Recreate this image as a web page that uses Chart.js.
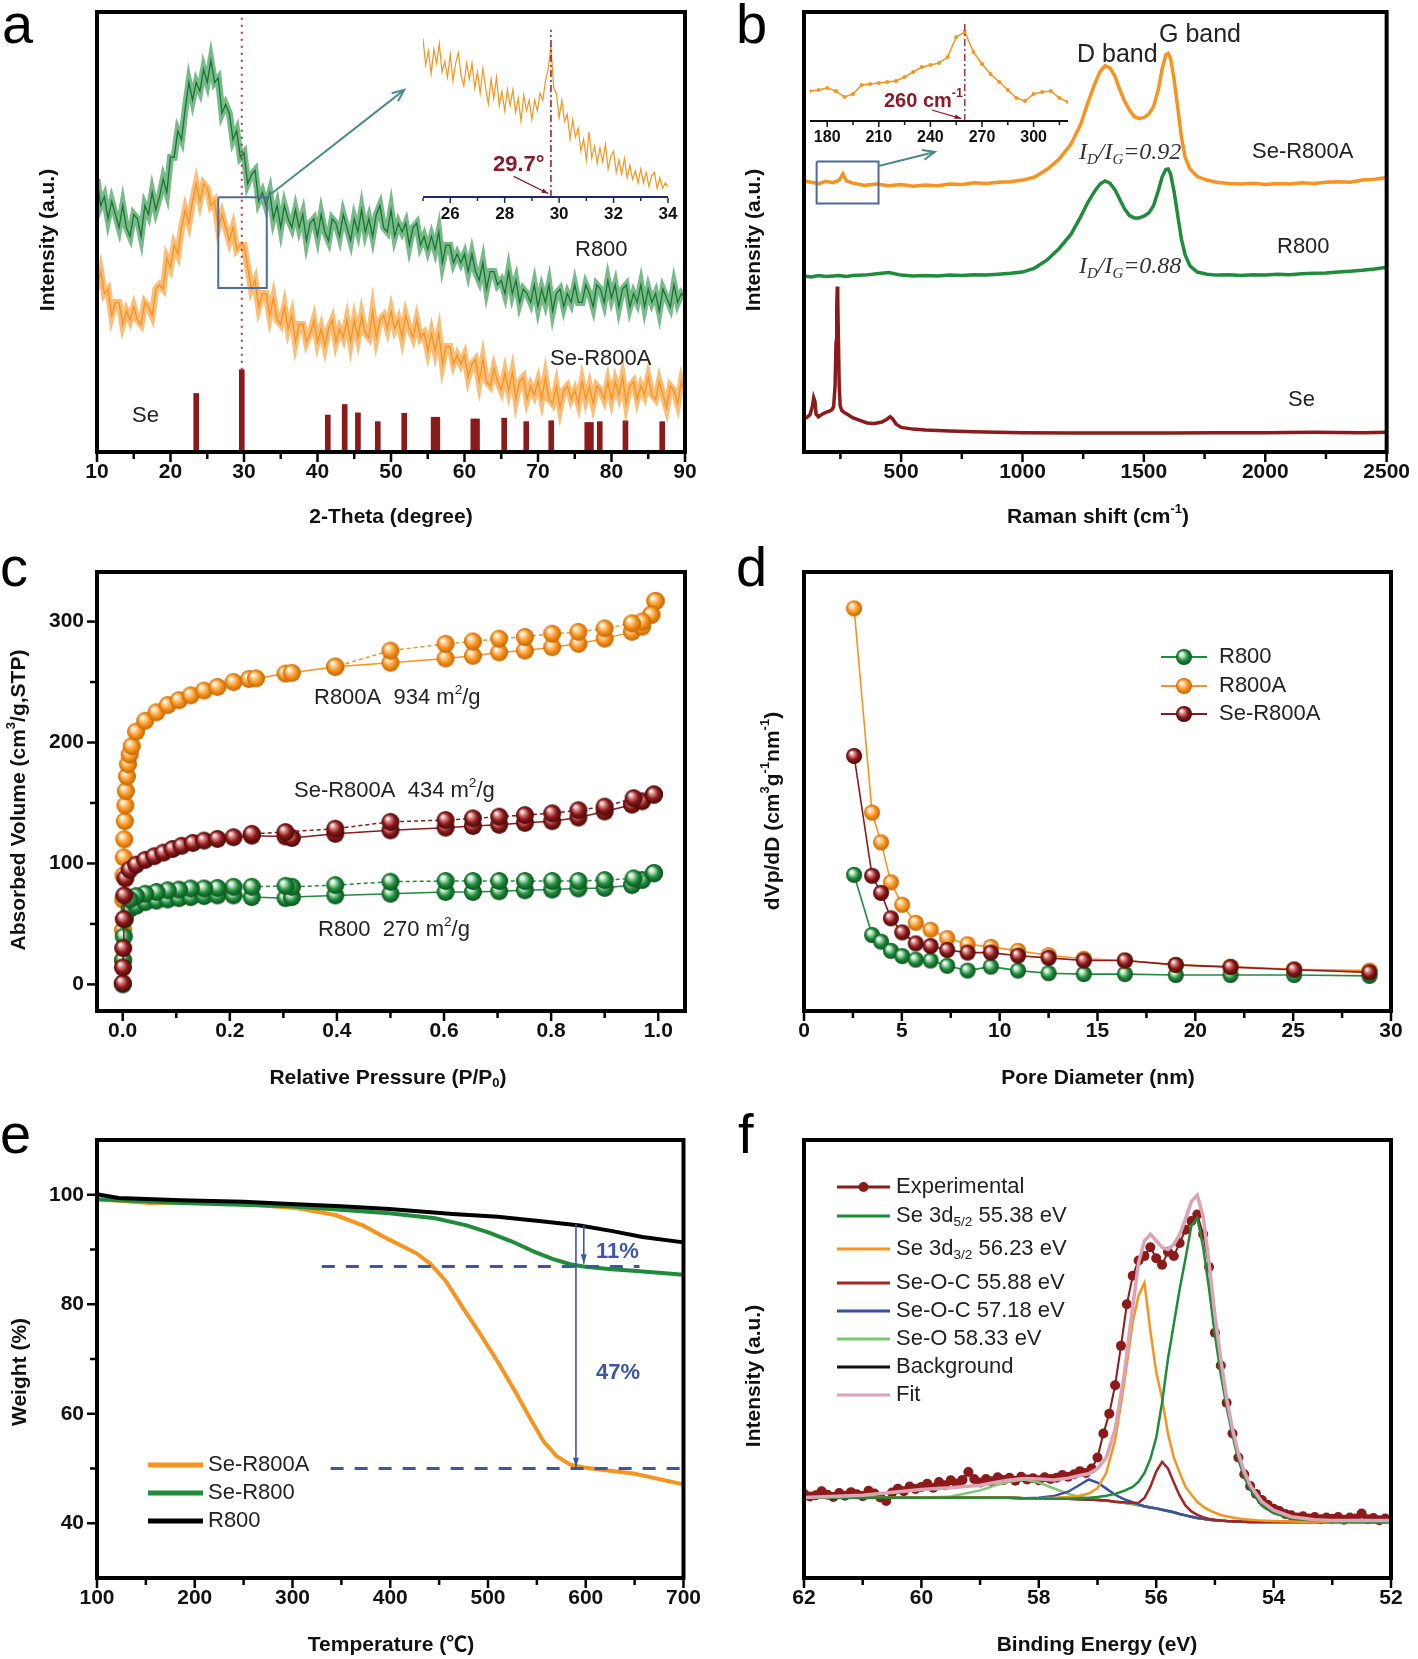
<!DOCTYPE html>
<html>
<head>
<meta charset="utf-8">
<script src="https://cdn.jsdelivr.net/npm/chart.js@4.4.1/dist/chart.umd.min.js"></script>
<style>
  body { margin: 0; background: #fff; }
  #wrap { position: relative; width: 1418px; height: 1659px; background: #fff; overflow: hidden; }
  #wrap canvas { position: absolute; }
</style>
</head>
<body>
<div id="wrap"></div>
<script>
// ---------------- data ----------------
// (a) XRD, 2-theta sampled every 0.5 deg from 10 to 90
var xrdAngles = Array.from({length: 161}, function (_, i) { return 10 + i * 0.5; });
var xrdR800 = [
  62, 56, 58, 53, 57, 54, 51, 56, 51, 49,
  54, 53, 49, 56, 54, 59, 55, 58, 62, 59,
  67, 67, 73, 71, 78, 84, 80, 84, 82, 87,
  84, 89, 84, 85, 77, 79, 77, 71, 73, 67,
  68, 61, 63, 64, 57, 59, 56, 59, 53, 56,
  51, 56, 53, 51, 55, 51, 54, 48, 52, 53,
  49, 54, 50, 48, 53, 52, 49, 54, 51, 48,
  53, 50, 55, 50, 53, 49, 54, 56, 51, 50,
  55, 49, 52, 50, 52, 47, 51, 52, 47, 49,
  46, 49, 46, 50, 43, 47, 47, 43, 45, 43,
  45, 41, 45, 41, 39, 43, 37, 41, 41, 38,
  39, 36, 41, 36, 39, 34, 37, 36, 34, 38,
  33, 37, 34, 38, 32, 36, 37, 33, 36, 34,
  38, 34, 34, 38, 36, 33, 38, 37, 34, 39,
  35, 38, 33, 37, 38, 33, 36, 34, 38, 33,
  37, 34, 36, 32, 37, 35, 33, 38, 34, 36,
  35
];
var xrdSeR800A = [
  37, 41, 36, 37, 31, 34, 34, 29, 32, 30,
  33, 30, 29, 34, 33, 31, 37, 38, 37, 44,
  42, 47, 45, 51, 55, 52, 57, 61, 57, 61,
  60, 56, 57, 51, 54, 51, 48, 51, 46, 47,
  47, 42, 37, 39, 33, 36, 36, 31, 35, 30,
  29, 33, 28, 31, 25, 29, 29, 25, 27, 30,
  25, 28, 24, 28, 30, 25, 28, 26, 30, 25,
  30, 26, 31, 27, 26, 32, 26, 30, 31, 28,
  32, 28, 30, 26, 31, 28, 26, 30, 26, 27,
  23, 27, 23, 27, 20, 24, 24, 20, 22, 20,
  22, 17, 20, 21, 16, 21, 16, 15, 19, 16,
  14, 18, 14, 18, 12, 16, 17, 12, 15, 13,
  16, 12, 17, 12, 11, 15, 10, 14, 15, 12,
  14, 11, 16, 12, 15, 11, 15, 14, 12, 16,
  12, 16, 13, 17, 11, 15, 16, 12, 15, 13,
  17, 13, 12, 16, 13, 10, 15, 14, 11, 16,
  13
];
var seRefPos = [23.5, 29.7, 41.4, 43.7, 45.5, 48.2, 51.8, 55.8, 56.3, 61.2, 61.7, 65.4, 68.4, 71.8, 76.7, 77.2, 78.4, 81.9, 86.9];
var seRefInt = [13.3, 18.7, 8.4, 10.8, 8.9, 6.9, 8.8, 7.9, 7.9, 7.5, 7.5, 7.7, 6.9, 7.1, 6.7, 6.7, 6.9, 7.1, 6.9];
// inset of (a): 25-34 deg every 0.1 deg
var insetAngles = Array.from({length: 91}, function (_, i) { return 25 + i * 0.1; });
var insetSeR800A = [
  90, 75, 83, 70, 84, 76, 87, 71, 77, 68,
  81, 66, 76, 82, 69, 63, 76, 67, 76, 62,
  71, 59, 73, 62, 53, 67, 56, 68, 52, 60,
  49, 61, 52, 61, 48, 56, 43, 58, 49, 55,
  44, 55, 49, 59, 55, 66, 73, 86, 62, 59,
  45, 55, 43, 47, 33, 44, 34, 39, 26, 33,
  21, 37, 22, 29, 19, 28, 20, 30, 16, 23,
  26, 14, 21, 13, 22, 11, 18, 10, 15, 8,
  16, 8, 14, 6, 12, 14, 5, 11, 5, 8,
  6
];

// (b) Raman
var ramanShift = [100, 130, 160, 190, 220, 245, 260, 275, 300, 350, 400, 450, 500, 550, 600, 650, 700, 750, 800, 850, 900, 950, 1000,
  1050, 1100, 1150, 1200, 1240, 1270, 1300, 1320, 1340, 1360, 1380, 1400, 1420, 1440, 1460, 1480, 1500, 1520, 1540, 1560,
  1575, 1590, 1600, 1610, 1625, 1640, 1655, 1670, 1690, 1720, 1760, 1800, 1850, 1900, 1950, 2000, 2050, 2100, 2150, 2200,
  2250, 2300, 2350, 2400, 2450, 2500];
var ramanSeR800A = [61.6, 61.3, 61.0, 61.5, 61.2, 61.8, 63.2, 61.6, 61.1, 60.6, 60.9, 60.5, 60.8, 60.4, 60.7, 60.5, 60.9, 60.8, 61.2, 61.0, 61.3, 61.4, 61.8,
  62.5, 64.2, 66.5, 70, 74.5, 79.5, 84, 86.5, 87.8, 87.3, 85.5, 82.5, 79.8, 77.8, 76.3, 75.8, 76, 76.8, 78.5, 82.5,
  87, 90.2, 90.6, 89.5, 84.5, 78, 71.5, 67, 64.3, 62.6, 61.8, 61.3, 61.0, 60.9, 61.1, 60.8, 61.0, 60.9, 61.2, 61.0,
  61.3, 61.4, 61.3, 61.8, 62.0, 62.4];
var ramanR800 = [40.0, 39.8, 40.1, 39.9, 40.0, 40.1, 40.0, 39.9, 40.1, 40.2, 40.5, 40.8, 40.2, 40.0, 40.1, 40.0, 40.2, 40.1, 40.3, 40.2, 40.4, 40.6, 40.9,
  41.8, 43.6, 46.2, 49.5, 53.5, 56.8, 59.5, 60.9, 61.6, 61.1, 59.7, 57.5, 55.3, 53.8, 53.2, 53.2, 53.6, 54.3, 56, 59.5,
  62.5, 64.2, 64.3, 63.2, 59, 53.5, 48.3, 44.8, 42.3, 40.9, 40.4, 40.2, 40.3, 40.1, 40.3, 40.2, 40.4, 40.3, 40.5, 40.6,
  40.7, 40.9, 41.1, 41.3, 41.6, 42.0];
var ramanSeShift = [100, 115, 125, 135, 140, 145, 150, 160, 175, 190, 205, 215, 222, 228, 232, 235, 237, 239, 242, 245,
  249, 255, 265, 280, 300, 330, 360, 390, 420, 440, 455, 465, 480, 500, 550, 600, 700, 800, 900, 1000,
  1200, 1400, 1600, 1800, 2000, 2200, 2400, 2500];
var ramanSe = [7.5, 8.0, 8.5, 10.5, 12.3, 11.5, 8.6, 8.0, 8.6, 9.0, 9.3, 9.6, 10.3, 15, 25, 33, 37.6, 35, 25, 15,
  10.5, 9.5, 9.0, 8.5, 7.8, 7.2, 6.6, 6.5, 6.8, 7.4, 8.0, 7.5, 6.3, 5.6, 5.2, 5.0, 4.8, 4.6, 4.5, 4.4,
  4.3, 4.3, 4.3, 4.4, 4.4, 4.5, 4.4, 4.5];
var insetShift = [170, 175, 180, 185, 190, 195, 200, 205, 210, 215, 220, 225, 230, 235, 240, 245, 250, 255, 260, 265, 270, 275, 280, 285, 290, 295, 300, 305, 310, 315, 320];
var insetRaman = [30, 31, 33, 30, 24, 27, 36, 37, 38, 39, 40, 44, 49, 54, 56, 58, 64, 84, 89, 69, 57, 47, 39, 31, 23, 20, 27, 29, 30, 23, 19];

// (c) N2 isotherms (adsorption / desorption)
var pR800A_ads = [0.0003, 0.0006, 0.001, 0.0015, 0.002, 0.003, 0.004, 0.005, 0.006, 0.008, 0.010, 0.013, 0.017, 0.025, 0.042, 0.063, 0.084, 0.105, 0.127, 0.152, 0.177, 0.207, 0.236, 0.249, 0.304, 0.316, 0.397, 0.5, 0.603, 0.654, 0.703, 0.751, 0.802, 0.851, 0.9, 0.951, 0.97, 0.987, 0.995];
var vR800A_ads = [20, 45, 70, 90, 105, 120, 135, 148, 160, 172, 182, 190, 197, 209, 218, 225, 231, 235, 239, 243, 246, 250, 252.5, 253, 257, 257.6, 262.7, 266, 269.5, 271.7, 274.5, 276, 278.8, 281.6, 285.9, 291.5, 295.8, 305.7, 317];
var pR800A_des = [0.995, 0.987, 0.97, 0.951, 0.9, 0.851, 0.802, 0.751, 0.703, 0.654, 0.603, 0.5, 0.397];
var vR800A_des = [317, 305.7, 300, 298.6, 294.4, 291.5, 290, 287.3, 285.9, 283.6, 281.6, 276, 262.7];
var pSeR800A_ads = [0.0002, 0.0005, 0.001, 0.002, 0.003, 0.005, 0.013, 0.025, 0.042, 0.059, 0.076, 0.093, 0.110, 0.131, 0.152, 0.177, 0.207, 0.241, 0.304, 0.316, 0.397, 0.5, 0.603, 0.654, 0.703, 0.751, 0.802, 0.851, 0.9, 0.951, 0.97, 0.992];
var vSeR800A_ads = [1, 14, 30, 54, 73.6, 87.7, 94.8, 99, 103, 106, 109, 112, 114.6, 117, 118.9, 120.3, 121.7, 123, 122.3, 121.1, 124.5, 127.4, 129.6, 131, 132, 133.6, 135, 138, 143, 148.6, 151.4, 157];
var pSeR800A_des = [0.992, 0.954, 0.9, 0.851, 0.802, 0.751, 0.703, 0.654, 0.603, 0.5, 0.397, 0.304, 0.241];
var vSeR800A_des = [157, 154, 147, 144, 141.5, 140, 138.7, 137.3, 135.9, 134.4, 128.8, 126, 124.5];
var pR800_ads = [0.0003, 0.001, 0.002, 0.004, 0.013, 0.025, 0.042, 0.063, 0.084, 0.105, 0.127, 0.152, 0.177, 0.207, 0.241, 0.304, 0.316, 0.397, 0.5, 0.603, 0.654, 0.703, 0.751, 0.802, 0.851, 0.9, 0.951, 0.97, 0.992];
var vR800_ads = [0, 20, 39.6, 53.8, 62.3, 65, 68, 69.3, 70.2, 71.3, 72.2, 73, 73.6, 73.6, 72.2, 71.3, 72.2, 73.6, 75, 76.4, 76.4, 77, 77.8, 78.4, 79.3, 79.8, 82.1, 86.3, 92];
var pR800_des = [0.992, 0.954, 0.9, 0.851, 0.802, 0.751, 0.703, 0.654, 0.603, 0.5, 0.397, 0.316, 0.304, 0.241, 0.207, 0.177, 0.152, 0.127, 0.105, 0.084, 0.063, 0.042, 0.025, 0.013];
var vR800_des = [92, 87.7, 86.3, 85.5, 85.5, 85.5, 85.5, 85.5, 85.5, 84.9, 82.1, 80.7, 81.5, 80.7, 80.7, 79.8, 79.3, 79.3, 78.4, 77.8, 76.4, 75, 73, 70.2];

// (d) pore size distribution
var poreDiameter = [2.56, 3.48, 3.94, 4.44, 5.02, 5.71, 6.47, 7.32, 8.36, 9.55, 10.94, 12.5, 14.3, 16.4, 19.0, 21.8, 25.05, 28.9];
var psdR800A = [91.7, 45.2, 38.4, 29.3, 24.2, 20.1, 18.5, 16.6, 15.2, 14.6, 13.7, 12.7, 11.9, 11.5, 10.5, 10.1, 9.5, 9.2];
var psdSeR800A = [58.1, 30.8, 26.9, 21.1, 17.9, 15.4, 14.8, 13.9, 13.3, 13.3, 12.6, 12.1, 11.5, 11.5, 10.5, 10.0, 9.4, 8.8];
var psdR800 = [31.0, 17.3, 15.8, 13.7, 12.5, 11.7, 11.5, 10.3, 9.2, 10.1, 9.2, 8.6, 8.4, 8.4, 8.2, 8.2, 8.2, 8.0];

// (e) TGA
var tR800 = [100, 122, 186, 250, 298, 350, 399, 464, 510, 557, 594, 626, 658, 700];
var wR800 = [100.1, 99.4, 99.0, 98.7, 98.3, 97.9, 97.4, 96.5, 96.0, 95.1, 94.4, 93.4, 92.3, 91.3];
var tSeR800 = [100, 187, 298, 399, 446, 478, 501, 524, 547, 566, 584, 598, 626, 649, 700];
var wSeR800 = [99.2, 98.5, 97.9, 96.6, 95.7, 94.4, 93.1, 91.5, 89.6, 88.3, 87.3, 86.9, 86.4, 86.1, 85.4];
var tSeR800A = [100, 154, 200, 250, 302, 344, 372, 399, 427, 441, 457, 473, 492, 510, 529, 543, 557, 570, 584, 598, 625, 649, 700];
var wSeR800A = [99.2, 98.5, 98.6, 98.3, 97.6, 96.3, 94.4, 91.8, 89.3, 87.4, 84.2, 79.7, 74.6, 69.5, 63.7, 59.2, 54.9, 52.3, 50.7, 50.2, 49.6, 49.1, 47.1];

// (f) Se 3d XPS
var bindingEnergy = [62, 61, 60, 59.5, 59, 58.75, 58.5, 58.25, 58, 57.75, 57.5, 57.3, 57.15, 57, 56.85, 56.7, 56.55, 56.4, 56.3, 56.2, 56.1, 56, 55.9, 55.8, 55.7, 55.6, 55.5, 55.4, 55.3, 55.2, 55.1, 55, 54.9, 54.8, 54.7, 54.6, 54.5, 54.4, 54.2, 54, 53.7, 53.3, 53, 52.5, 52];
var xpsBackground = [18.3, 18.3, 18.3, 18.3, 18.3, 18.3, 18.3, 18.2, 18.2, 18.1, 18.1, 18.0, 17.9, 17.8, 17.7, 17.4, 17.2, 16.9, 16.6, 16.4, 16.1, 15.9, 15.6, 15.3, 15.0, 14.6, 14.3, 14.0, 13.7, 13.5, 13.3, 13.2, 13.1, 13.0, 12.95, 12.9, 12.85, 12.8, 12.8, 12.8, 12.8, 12.8, 12.8, 12.8, 12.8];
var xps3d52 = [18.3, 18.3, 18.3, 18.3, 18.3, 18.3, 18.3, 18.2, 18.2, 18.1, 18.1, 18.2, 18.3, 18.5, 18.8, 19.2, 19.9, 20.8, 22, 24, 27.2, 32, 40, 50, 58, 66, 73, 80.5, 82.2, 75.5, 66, 55.5, 46.5, 39, 32.5, 27, 23, 20.2, 16.5, 14.8, 13.6, 13.1, 12.9, 12.8, 12.8];
var xps3d32 = [18.3, 18.3, 18.3, 18.3, 18.3, 18.3, 18.3, 18.2, 18.2, 18.3, 18.5, 18.8, 19.3, 20.5, 24, 31.5, 44, 58.5, 64.5, 67.4, 56.5, 47, 41, 33, 27.5, 24, 20.8, 19, 17.4, 16.3, 15.5, 14.9, 14.4, 14.1, 13.8, 13.6, 13.4, 13.3, 13.1, 13.0, 12.9, 12.8, 12.8, 12.8, 12.8];
var xpsSeOC1 = [18.3, 18.3, 18.3, 18.3, 18.3, 18.3, 18.3, 18.2, 18.2, 18.1, 18.1, 18.0, 17.9, 17.8, 17.7, 17.4, 17.3, 17.1, 17.2, 18.3, 20.8, 24.3, 26.5, 25, 21.8, 18.8, 16.5, 15.2, 14.4, 13.9, 13.5, 13.3, 13.1, 13.0, 12.95, 12.9, 12.85, 12.8, 12.8, 12.8, 12.8, 12.8, 12.8, 12.8, 12.8];
var xpsSeOC2 = [18.3, 18.3, 18.3, 18.3, 18.3, 18.3, 18.3, 18.2, 18.3, 18.7, 19.7, 21.3, 22.5, 21.8, 20.4, 19, 18, 17.3, 16.8, 16.4, 16.1, 15.9, 15.6, 15.3, 15.0, 14.6, 14.3, 14.0, 13.7, 13.5, 13.3, 13.2, 13.1, 13.0, 12.95, 12.9, 12.85, 12.8, 12.8, 12.8, 12.8, 12.8, 12.8, 12.8, 12.8];
var xpsSeO = [18.3, 18.3, 18.3, 18.6, 20, 21.1, 22, 22.5, 21.8, 20.5, 19.2, 18.5, 18.2, 17.9, 17.7, 17.4, 17.2, 16.9, 16.6, 16.4, 16.1, 15.9, 15.6, 15.3, 15.0, 14.6, 14.3, 14.0, 13.7, 13.5, 13.3, 13.2, 13.1, 13.0, 12.95, 12.9, 12.85, 12.8, 12.8, 12.8, 12.8, 12.8, 12.8, 12.8, 12.8];
var xpsFit = [18.4, 18.9, 20.2, 20.6, 21.2, 21.8, 22.4, 22.7, 22.6, 22.4, 22.8, 23.4, 23.8, 25, 27.5, 34, 46, 62, 72, 77, 78.5, 77, 75.5, 75, 76.2, 78.4, 82, 86, 87.4, 82.5, 72, 60, 50, 41, 34, 28.5, 24.3, 21.2, 17.4, 15.5, 14, 13.3, 13.1, 13.1, 13.1];
var expEnergy = Array.from({length: 101}, function (_, i) { return 62 - i * 0.1; });
var xpsExperimental = [
  19.2, 18.6, 18.9, 19.8, 19.0, 18.5, 19.4, 18.8, 19.6, 19.1,
  18.7, 19.9, 19.3, 18.4, 17.6, 19.5, 20.4, 19.8, 20.9, 20.3,
  20.8, 21.5, 20.6, 21.9, 21.2, 22.3, 21.6, 22.4, 24.2, 22.6,
  21.8, 22.6, 22.1, 23.0, 22.4, 22.9, 22.2, 23.1, 22.5, 22.8,
  22.3, 23.0, 22.6, 22.9, 23.5, 23.1, 23.7, 24.4, 24.0, 25.0,
  27.5, 33, 37.5, 44, 53, 62.5, 69, 72.5, 73.5, 75.5,
  73, 71.5, 74.5, 73.5, 76.5, 79.5, 81.5, 83, 78.5, 71,
  56, 48.5, 40, 33, 27.5, 23.7, 21, 19.2, 17.8, 16.7,
  15.8, 15.3, 14.6, 14.3, 13.8, 14.1, 13.6, 13.9, 13.4, 13.8,
  13.5, 13.9, 13.3, 13.8, 13.6, 14.7, 13.4, 13.7, 13.2, 13.6,
  13.4
];

// tick labels
var aTicks = [10, 20, 30, 40, 50, 60, 70, 80, 90], aMinor = [15, 25, 35, 45, 55, 65, 75, 85];
var aInsetTicks = [26, 28, 30, 32, 34], aInsetMinor = [25, 27, 29, 31, 33];
var bTicks = [500, 1000, 1500, 2000, 2500], bMinor = [250, 750, 1250, 1750, 2250];
var bInsetTicks = [180, 210, 240, 270, 300], bInsetMinor = [195, 225, 255, 285, 315];
var cXTicks = [0, 0.2, 0.4, 0.6, 0.8, 1.0], cXMinor = [0.1, 0.3, 0.5, 0.7, 0.9];
var cYTicks = [0, 100, 200, 300], cYMinor = [50, 150, 250];
var dTicks = [0, 5, 10, 15, 20, 25, 30], dMinor = [2.5, 7.5, 12.5, 17.5, 22.5, 27.5];
var eXTicks = [100, 200, 300, 400, 500, 600, 700], eXMinor = [150, 250, 350, 450, 550, 650];
var eYTicks = [40, 60, 80, 100], eYMinor = [50, 70, 90];
var fTicks = [62, 60, 58, 56, 54, 52], fMinor = [61, 59, 57, 55, 53];

// ---------------- helpers ----------------
var SANS = '"Liberation Sans", Arial, Helvetica, "Noto Sans CJK SC", sans-serif';
var SERIF = '"Liberation Serif", "Times New Roman", serif';
var ORANGE = '#f7931e', GREEN = '#1f8c3c', MAROON = '#8c1a1a', NAVY = '#3c55a5';

function pts(xs, ys) { return xs.map(function (x, i) { return {x: x, y: ys[i]}; }); }

function fontStr(size, st) {
  return (st.italic ? 'italic ' : '') + (st.bold ? 'bold ' : '') + size + 'px ' + (st.fam || SANS);
}
function drawRich(ctx, parts, x, y, size, st) {
  ctx.save();
  ctx.fillStyle = st.color || '#222';
  ctx.textBaseline = 'middle';
  ctx.textAlign = 'left';
  var w = 0;
  parts.forEach(function (p) { ctx.font = fontStr(p[1] ? size * 0.62 : size, st); w += ctx.measureText(p[0]).width; });
  var cx = st.align === 'center' ? x - w / 2 : x;
  parts.forEach(function (p) {
    ctx.font = fontStr(p[1] ? size * 0.62 : size, st);
    var dy = p[1] === 'sup' ? -size * 0.36 : (p[1] === 'sub' ? size * 0.28 : 0);
    ctx.fillText(p[0], cx, y + dy);
    cx += ctx.measureText(p[0]).width;
  });
  ctx.restore();
}
function drawArrow(ctx, x1, y1, x2, y2, a) {
  var ang = Math.atan2(y2 - y1, x2 - x1), h = a.head || 10, sp = a.spread || 0.4;
  ctx.save();
  ctx.strokeStyle = a.color; ctx.fillStyle = a.color; ctx.lineWidth = a.width || 2;
  ctx.beginPath(); ctx.moveTo(x1, y1); ctx.lineTo(x2, y2); ctx.stroke();
  ctx.beginPath();
  ctx.moveTo(x2 - h * Math.cos(ang - sp), y2 - h * Math.sin(ang - sp));
  ctx.lineTo(x2, y2);
  ctx.lineTo(x2 - h * Math.cos(ang + sp), y2 - h * Math.sin(ang + sp));
  if (a.open) { ctx.stroke(); } else { ctx.closePath(); ctx.fill(); }
  ctx.restore();
}
function ballSprite(light, color, dark, r) {
  var c = document.createElement('canvas');
  c.width = c.height = 2 * r + 2;
  var g = c.getContext('2d'), m = r + 1;
  var grad = g.createRadialGradient(m - r * 0.35, m - r * 0.4, r * 0.08, m, m, r);
  grad.addColorStop(0, '#ffffff');
  grad.addColorStop(0.22, light);
  grad.addColorStop(0.6, color);
  grad.addColorStop(1, dark);
  g.fillStyle = grad;
  g.beginPath(); g.arc(m, m, r, 0, Math.PI * 2); g.fill();
  return c;
}

// decoration plugin: frame, tick marks, titles, texts, arrows, legend
function deco(spec) {
  return {
    id: 'deco',
    afterDraw: function (chart) {
      var ctx = chart.ctx, ca = chart.chartArea, xs = chart.scales.x, ys = chart.scales.y;
      var ox = spec.ox, oy = spec.oy;
      ctx.save();
      if (spec.axisLine) {
        ctx.strokeStyle = spec.axisLine; ctx.lineWidth = 2;
        ctx.beginPath(); ctx.moveTo(ca.left, ca.bottom); ctx.lineTo(ca.right, ca.bottom); ctx.stroke();
      }
      var tk = spec.ticks || {}, base = ca.bottom + (spec.frame ? 2 : 1);
      ctx.strokeStyle = spec.axisLine || '#000';
      ctx.lineWidth = tk.w || 2.5;
      function xt(vals, len) {
        (vals || []).forEach(function (v) {
          var px = xs.getPixelForValue(v);
          ctx.beginPath(); ctx.moveTo(px, base); ctx.lineTo(px, base + len); ctx.stroke();
        });
      }
      function yt(vals, len) {
        (vals || []).forEach(function (v) {
          var py = ys.getPixelForValue(v);
          ctx.beginPath(); ctx.moveTo(ca.left - 2, py); ctx.lineTo(ca.left - 2 - len, py); ctx.stroke();
        });
      }
      xt(tk.xMajor, tk.len || 8); xt(tk.xMinor, tk.minLen || 5);
      yt(tk.yMajor, tk.len || 8); yt(tk.yMinor, tk.minLen || 5);
      if (spec.frame) {
        ctx.strokeStyle = '#000'; ctx.lineWidth = 4;
        ctx.strokeRect(ca.left, ca.top, ca.right - ca.left, ca.bottom - ca.top);
      }
      (spec.arrows || []).forEach(function (a) {
        drawArrow(ctx, xs.getPixelForValue(a.from[0]), ys.getPixelForValue(a.from[1]),
          xs.getPixelForValue(a.to[0]), ys.getPixelForValue(a.to[1]), a);
      });
      (spec.texts || []).forEach(function (t) {
        var st = {bold: t.bold, italic: t.italic, fam: t.fam, color: t.color, align: t.align};
        if (t.rot) {
          ctx.save(); ctx.translate(t.x - ox, t.y - oy); ctx.rotate(-Math.PI / 2);
          drawRich(ctx, t.p, 0, 0, t.size, st); ctx.restore();
        } else {
          drawRich(ctx, t.p, t.x - ox, t.y - oy, t.size, st);
        }
      });
      if (spec.letter) {
        ctx.fillStyle = '#000'; ctx.font = '56px ' + SANS; ctx.textBaseline = 'alphabetic'; ctx.textAlign = 'left';
        ctx.fillText(spec.letter[0], spec.letter[1] - ox, spec.letter[2] - oy);
      }
      (spec.legend || []).forEach(function (it) {
        var y = it.y - oy, x1 = it.x1 - ox, x2 = it.x2 - ox;
        ctx.strokeStyle = it.color; ctx.lineWidth = it.w || 3;
        ctx.beginPath(); ctx.moveTo(x1, y); ctx.lineTo(x2, y); ctx.stroke();
        if (it.sprite) ctx.drawImage(it.sprite, (x1 + x2) / 2 - it.sprite.width / 2, y - it.sprite.height / 2);
        if (it.dot) { ctx.fillStyle = it.color; ctx.beginPath(); ctx.arc((x1 + x2) / 2, y, 5, 0, Math.PI * 2); ctx.fill(); }
        drawRich(ctx, it.p, it.tx - ox, y, 22, {color: '#222'});
      });
      ctx.restore();
    }
  };
}

function tickCfg(size, cb) {
  return {autoSkip: false, maxRotation: 0, font: {family: SANS, size: size, weight: 'bold'}, color: '#111', padding: 8,
    callback: cb || function (v) { return String(v); }};
}
function axis(min, max, ticks, extra) {
  var o = {min: min, max: max, ticks: tickCfg(21)};
  if (ticks) o.afterBuildTicks = function (s) { s.ticks = ticks.map(function (v) { return {value: v}; }); };
  return Object.assign(o, extra || {});
}
function hidden(min, max) { return {min: min, max: max, ticks: {display: false}}; }

function makeChart(left, top, w, h, area, xCfg, yCfg, datasets, spec) {
  var cv = document.createElement('canvas');
  cv.width = w; cv.height = h;
  cv.style.left = left + 'px'; cv.style.top = top + 'px';
  document.getElementById('wrap').appendChild(cv);
  spec.ox = left; spec.oy = top;
  var x = Object.assign({type: 'linear', offset: false, grid: {display: false, drawTicks: false}, border: {display: false},
    afterFit: function (s) { s.height = h - area.b; }}, xCfg);
  var y = Object.assign({type: 'linear', grid: {display: false, drawTicks: false}, border: {display: false},
    afterFit: function (s) { s.width = area.l; }}, yCfg);
  return new Chart(cv, {
    type: 'line',
    data: {datasets: datasets},
    options: {
      responsive: false, animation: false, devicePixelRatio: 1, events: [],
      layout: {padding: {left: 0, top: area.t, right: w - area.r, bottom: 0}},
      plugins: {legend: {display: false}, tooltip: {enabled: false}},
      elements: {point: {radius: 0}, line: {tension: 0}},
      scales: {x: x, y: y}
    },
    plugins: [deco(spec)]
  });
}
function line(data, color, width, extra) {
  return Object.assign({type: 'line', data: data, borderColor: color, borderWidth: width, pointRadius: 0, fill: false}, extra || {});
}

var ballOrange = ballSprite('#ffd6a0', ORANGE, '#c46400', 9);
var ballGreen = ballSprite('#b9e6c2', GREEN, '#0a4f1c', 9);
var ballMaroon = ballSprite('#e39090', MAROON, '#470808', 9);
var dOrange = ballSprite('#ffd6a0', ORANGE, '#c46400', 8);
var dGreen = ballSprite('#b9e6c2', GREEN, '#0a4f1c', 8);
var dMaroon = ballSprite('#e39090', MAROON, '#470808', 8);

// ---------------- (a) XRD ----------------
makeChart(0, 0, 709, 545, {l: 97, r: 685, t: 12, b: 452},
  axis(10, 90, aTicks), hidden(0, 100),
  [
    line(pts([26.5, 33.1, 33.1, 26.5, 26.5], [57.9, 57.9, 37.3, 37.3, 57.9]), '#4d6b9c', 2),
    line(pts([29.7, 29.7], [18.7, 100]), '#b5303f', 2, {borderDash: [2, 5]}),
    line(pts(xrdAngles, xrdSeR800A), ORANGE, 1.3),
    line(pts(xrdAngles, xrdSeR800A), 'rgba(247,147,30,0.6)', 7),
    line(pts(xrdAngles, xrdR800), '#17752f', 1.3),
    line(pts(xrdAngles, xrdR800), 'rgba(31,140,60,0.6)', 7),
    {type: 'bar', data: pts(seRefPos, seRefInt), backgroundColor: MAROON, barThickness: 5}
  ],
  {
    frame: true, ticks: {xMajor: aTicks, xMinor: aMinor},
    letter: ['a', 2, 43],
    arrows: [{from: [33.1, 57.9], to: [51.8, 82.3], color: '#4a8c8c', width: 2, head: 13, open: true}],
    texts: [
      {p: [['R800']], x: 575, y: 250, size: 22},
      {p: [['Se-R800A']], x: 550, y: 359, size: 22},
      {p: [['Se']], x: 132, y: 416, size: 22},
      {p: [['Intensity (a.u.)']], x: 48, y: 240, size: 21, bold: true, rot: true, align: 'center', color: '#111'},
      {p: [['2-Theta (degree)']], x: 391, y: 517, size: 21, bold: true, align: 'center', color: '#111'}
    ]
  });

// ---------------- (b) Raman ----------------
makeChart(709, 0, 709, 545, {l: 95, r: 682, t: 12, b: 452},
  axis(100, 2500, bTicks), hidden(0, 100),
  [
    line(pts([152, 407, 407, 152, 152], [66, 66, 56.5, 56.5, 66]), '#4d6b9c', 2),
    line(pts(ramanShift, ramanSeR800A), ORANGE, 3.5),
    line(pts(ramanShift, ramanR800), GREEN, 3.5),
    line(pts(ramanSeShift, ramanSe), MAROON, 3.5)
  ],
  {
    frame: true, ticks: {xMajor: bTicks, xMinor: bMinor},
    letter: ['b', 736, 43],
    arrows: [{from: [407, 65], to: [639, 68.2], color: '#4a8c8c', width: 2, head: 13, open: true}],
    texts: [
      {p: [['D band']], x: 1077, y: 55, size: 25},
      {p: [['G band']], x: 1159, y: 35, size: 25},
      {p: [['Se-R800A']], x: 1252, y: 152, size: 22},
      {p: [['R800']], x: 1277, y: 247, size: 22},
      {p: [['Se']], x: 1288, y: 400, size: 22},
      {p: [['I'], ['D', 'sub'], ['/I'], ['G', 'sub'], ['=0.92']], x: 1079, y: 153, size: 24, italic: true, fam: SERIF, color: '#333'},
      {p: [['I'], ['D', 'sub'], ['/I'], ['G', 'sub'], ['=0.88']], x: 1079, y: 267, size: 24, italic: true, fam: SERIF, color: '#333'},
      {p: [['Intensity (a.u.)']], x: 754, y: 240, size: 21, bold: true, rot: true, align: 'center', color: '#111'},
      {p: [['Raman shift (cm'], ['-1', 'sup'], [')']], x: 1098, y: 517, size: 21, bold: true, align: 'center', color: '#111'}
    ]
  });

// ---------------- (c) isotherms ----------------
function iso(x, y, color, sprite, dashed) {
  return line(pts(x, y), color, 1.5, {pointRadius: 9, pointStyle: sprite, pointBorderWidth: 0, borderDash: dashed ? [4, 3] : []});
}
makeChart(0, 545, 709, 560, {l: 97, r: 685, t: 27, b: 466},
  axis(-0.048, 1.05, cXTicks, {ticks: tickCfg(21, function (v) { return v.toFixed(1); })}),
  axis(-22, 341, cYTicks, {ticks: Object.assign(tickCfg(21), {padding: 13})}),
  [
    iso(pSeR800A_des, vSeR800A_des, MAROON, ballMaroon, true),
    iso(pSeR800A_ads, vSeR800A_ads, MAROON, ballMaroon, false),
    iso(pR800_des, vR800_des, GREEN, ballGreen, true),
    iso(pR800_ads, vR800_ads, GREEN, ballGreen, false),
    iso(pR800A_des, vR800A_des, ORANGE, ballOrange, true),
    iso(pR800A_ads, vR800A_ads, ORANGE, ballOrange, false)
  ],
  {
    frame: true, ticks: {xMajor: cXTicks, xMinor: cXMinor, yMajor: cYTicks, yMinor: cYMinor},
    letter: ['c', 0, 586],
    texts: [
      {p: [['R800A  934 m'], ['2', 'sup'], ['/g']], x: 314, y: 698, size: 22},
      {p: [['Se-R800A  434 m'], ['2', 'sup'], ['/g']], x: 294, y: 791, size: 22},
      {p: [['R800  270 m'], ['2', 'sup'], ['/g']], x: 318, y: 930, size: 22},
      {p: [['Absorbed Volume (cm'], ['3', 'sup'], ['/g,STP)']], x: 19, y: 800, size: 21, bold: true, rot: true, align: 'center', color: '#111'},
      {p: [['Relative Pressure (P/P'], ['0', 'sub'], [')']], x: 388, y: 1078, size: 21, bold: true, align: 'center', color: '#111'}
    ]
  });

// ---------------- (d) pore size ----------------
function psd(y, color, sprite) {
  return line(pts(poreDiameter, y), color, 1.6, {pointRadius: 8, pointStyle: sprite, pointBorderWidth: 0});
}
makeChart(709, 545, 709, 560, {l: 95, r: 682, t: 27, b: 466},
  axis(0, 30, dTicks), hidden(0, 100),
  [psd(psdSeR800A, MAROON, dMaroon), psd(psdR800A, ORANGE, dOrange), psd(psdR800, GREEN, dGreen)],
  {
    frame: true, ticks: {xMajor: dTicks, xMinor: dMinor},
    letter: ['d', 736, 586],
    legend: [
      {x1: 1161, x2: 1207, tx: 1219, y: 657, color: GREEN, w: 2, sprite: dGreen, p: [['R800']]},
      {x1: 1161, x2: 1207, tx: 1219, y: 686, color: ORANGE, w: 2, sprite: dOrange, p: [['R800A']]},
      {x1: 1161, x2: 1207, tx: 1219, y: 714, color: MAROON, w: 2, sprite: dMaroon, p: [['Se-R800A']]}
    ],
    texts: [
      {p: [['dVp/dD (cm'], ['3', 'sup'], ['g'], ['-1', 'sup'], ['nm'], ['-1', 'sup'], [')']], x: 773, y: 811, size: 21, bold: true, rot: true, align: 'center', color: '#111'},
      {p: [['Pore Diameter (nm)']], x: 1098, y: 1078, size: 21, bold: true, align: 'center', color: '#111'}
    ]
  });

// ---------------- (e) TGA ----------------
makeChart(0, 1105, 709, 554, {l: 97, r: 685, t: 35, b: 473},
  axis(100, 700, eXTicks),
  axis(30, 110, eYTicks, {ticks: Object.assign(tickCfg(21), {padding: 13})}),
  [
    line(pts([330, 655], [86.9, 86.9]), NAVY, 3, {borderDash: [13, 11]}),
    line(pts([339, 700], [50.0, 50.0]), NAVY, 3, {borderDash: [13, 11]}),
    line(pts(tR800, wR800), '#000', 4),
    line(pts(tSeR800, wSeR800), GREEN, 4),
    line(pts(tSeR800A, wSeR800A), ORANGE, 4)
  ],
  {
    frame: true, ticks: {xMajor: eXTicks, xMinor: eXMinor, yMajor: eYTicks, yMinor: eYMinor},
    letter: ['e', 0, 1153],
    arrows: [
      {from: [590, 94.6], to: [590, 50.2], color: NAVY, width: 1.6, head: 10, spread: 0.3},
      {from: [598, 94.4], to: [598, 87.4], color: NAVY, width: 1.6, head: 10, spread: 0.3}
    ],
    legend: [
      {x1: 148, x2: 203, tx: 208, y: 1465, color: ORANGE, w: 5, p: [['Se-R800A']]},
      {x1: 148, x2: 203, tx: 208, y: 1493, color: GREEN, w: 5, p: [['Se-R800']]},
      {x1: 148, x2: 203, tx: 208, y: 1521, color: '#000', w: 5, p: [['R800']]}
    ],
    texts: [
      {p: [['11%']], x: 596, y: 1252, size: 22, bold: true, color: NAVY},
      {p: [['47%']], x: 596, y: 1373, size: 22, bold: true, color: NAVY},
      {p: [['Weight (%)']], x: 20, y: 1372, size: 21, bold: true, rot: true, align: 'center', color: '#111'},
      {p: [['Temperature (℃)']], x: 391, y: 1645, size: 21, bold: true, align: 'center', color: '#111'}
    ]
  });

// ---------------- (f) XPS ----------------
makeChart(709, 1105, 709, 554, {l: 95, r: 682, t: 35, b: 473},
  axis(52, 62, fTicks, {reverse: true}), hidden(0, 100),
  [
    line(pts(bindingEnergy, xpsFit), '#dba3b4', 3.5),
    line(pts(bindingEnergy, xps3d52), GREEN, 2.5),
    line(pts(bindingEnergy, xps3d32), ORANGE, 2.5),
    line(pts(bindingEnergy, xpsSeOC1), '#a52424', 2.5),
    line(pts(bindingEnergy, xpsSeOC2), '#3a4fa8', 2.5),
    line(pts(bindingEnergy, xpsSeO), '#7dc873', 2.5),
    line(pts(bindingEnergy, xpsBackground), '#111', 2.5),
    line(pts(expEnergy, xpsExperimental), MAROON, 2, {pointRadius: 5, pointBackgroundColor: MAROON, pointBorderWidth: 0})
  ],
  {
    frame: true, ticks: {xMajor: fTicks, xMinor: fMinor},
    letter: ['f', 738, 1153],
    legend: [
      {x1: 837, x2: 890, tx: 896, y: 1187, color: MAROON, dot: true, p: [['Experimental']]},
      {x1: 837, x2: 890, tx: 896, y: 1216, color: GREEN, p: [['Se 3d'], ['5/2', 'sub'], [' 55.38 eV']]},
      {x1: 837, x2: 890, tx: 896, y: 1249, color: ORANGE, p: [['Se 3d'], ['3/2', 'sub'], [' 56.23 eV']]},
      {x1: 837, x2: 890, tx: 896, y: 1283, color: '#a52424', p: [['Se-O-C 55.88 eV']]},
      {x1: 837, x2: 890, tx: 896, y: 1311, color: '#3a4fa8', p: [['Se-O-C 57.18 eV']]},
      {x1: 837, x2: 890, tx: 896, y: 1339, color: '#7dc873', p: [['Se-O 58.33 eV']]},
      {x1: 837, x2: 890, tx: 896, y: 1367, color: '#111', p: [['Background']]},
      {x1: 837, x2: 890, tx: 896, y: 1395, color: '#dba3b4', p: [['Fit']]}
    ],
    texts: [
      {p: [['Intensity (a.u.)']], x: 754, y: 1376, size: 21, bold: true, rot: true, align: 'center', color: '#111'},
      {p: [['Binding Energy (eV)']], x: 1097, y: 1645, size: 21, bold: true, align: 'center', color: '#111'}
    ]
  });

// ---------------- insets ----------------
makeChart(400, 10, 290, 215, {l: 23, r: 268, t: 11, b: 187},
  axis(25, 34, aInsetTicks, {ticks: Object.assign(tickCfg(17), {padding: 7})}), hidden(0, 100),
  [
    line(pts([29.7, 29.7], [0, 95]), '#8c1a2a', 1.5, {borderDash: [7, 3, 2, 3]}),
    line(pts(insetAngles, insetSeR800A), ORANGE, 1.2)
  ],
  {
    axisLine: '#1c2870', ticks: {xMajor: aInsetTicks, xMinor: aInsetMinor, len: 5, minLen: 3, w: 1.5},
    arrows: [{from: [28.33, 11.7], to: [29.6, 2], color: '#8c1a2a', width: 1.3, head: 7, spread: 0.35}],
    texts: [{p: [['29.7°']], x: 493, y: 165, size: 22, bold: true, color: '#8c1a2a'}]
  });

makeChart(790, 10, 300, 140, {l: 20, r: 278, t: 11, b: 111},
  axis(170, 320, bInsetTicks, {ticks: Object.assign(tickCfg(16), {padding: 7})}), hidden(0, 100),
  [
    line(pts([260, 260], [0, 97]), '#8c1a2a', 1.3, {borderDash: [7, 3, 2, 3]}),
    line(pts(insetShift, insetRaman), ORANGE, 1.5, {pointRadius: 2, pointBackgroundColor: ORANGE, pointBorderWidth: 0})
  ],
  {
    axisLine: '#111', ticks: {xMajor: bInsetTicks, xMinor: bInsetMinor, len: 5, minLen: 3, w: 1.5},
    arrows: [{from: [240.8, 11], to: [258, 2.4], color: '#8c1a2a', width: 1.3, head: 7, spread: 0.35}],
    texts: [{p: [['260 cm'], ['-1', 'sup']], x: 884, y: 101, size: 20, bold: true, color: '#8c1a2a'}]
  });
</script>
</body>
</html>
